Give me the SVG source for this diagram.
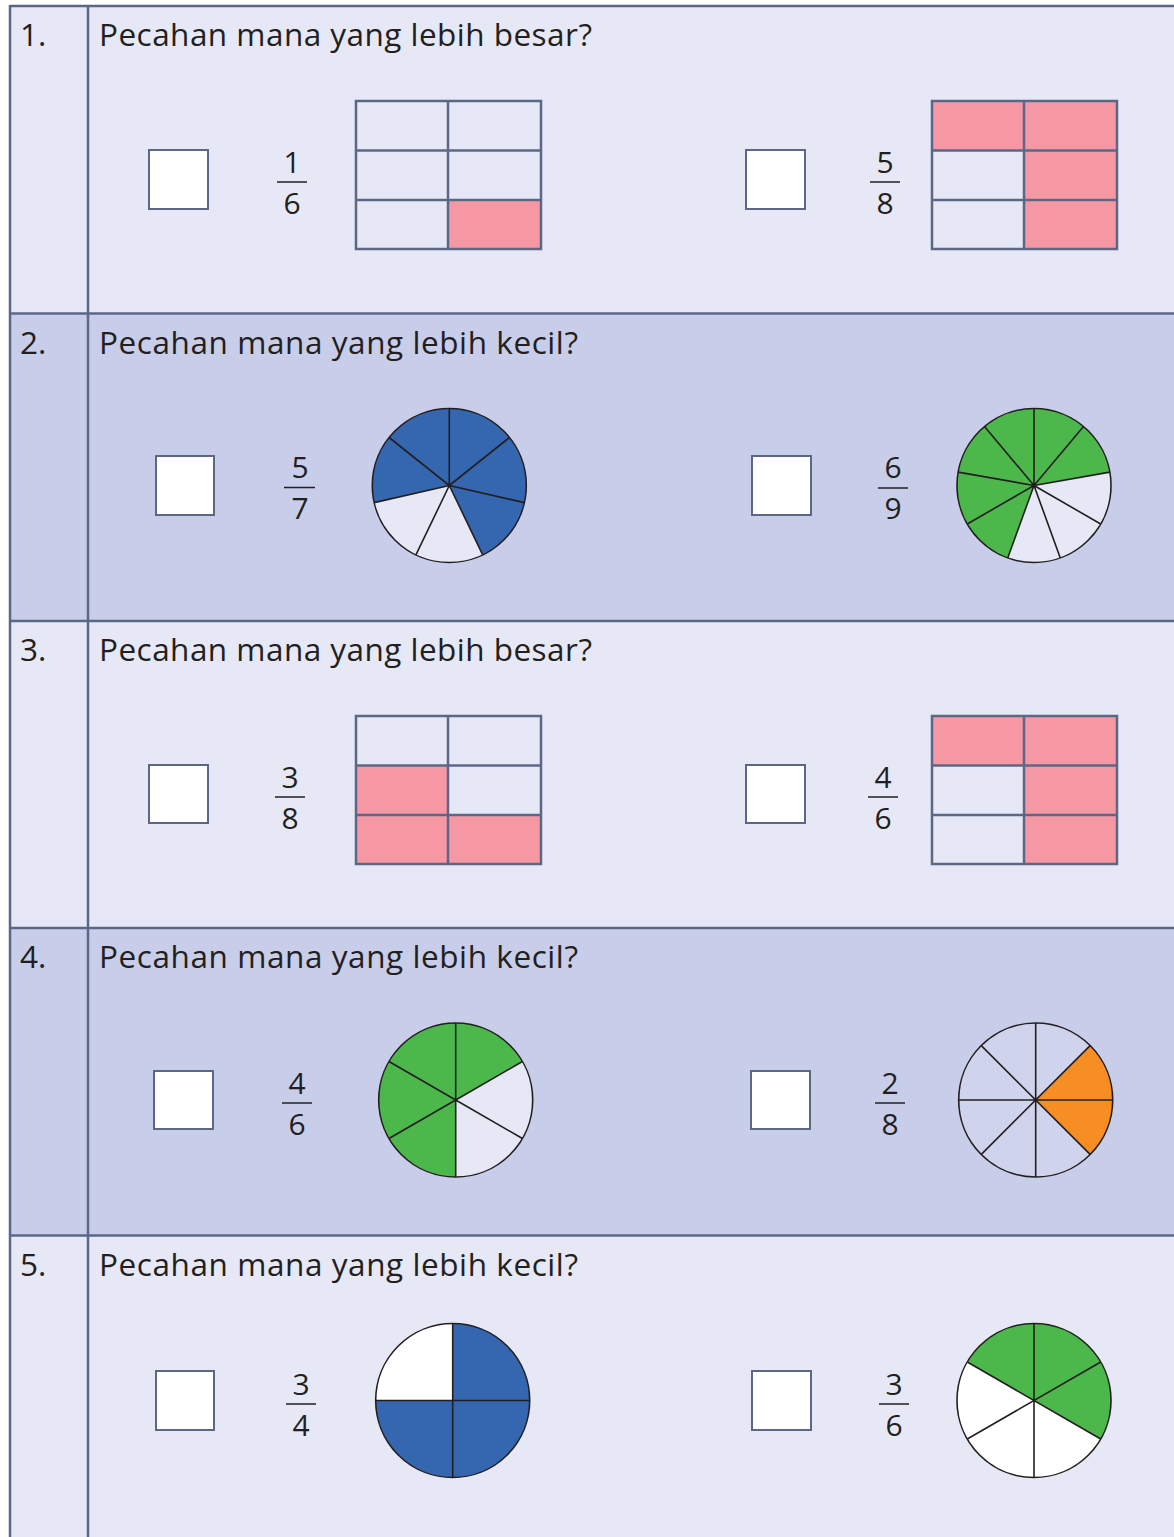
<svg xmlns="http://www.w3.org/2000/svg" width="1174" height="1537" viewBox="0 0 1174 1537">
<style>
.lt{fill:#e6e8f5}.dk{fill:#c8cde9}
.bd{stroke:#5c6788;stroke-width:2.5;fill:none}
.t{font-family:"Open Sans","Noto Sans",sans-serif;font-size:31.5px;fill:#231f20}
.fr{font-family:"Open Sans","Noto Sans",sans-serif;font-size:30px;fill:#231f20;text-anchor:middle}
.fl{stroke:#231f20;stroke-width:1.5}
.cb{fill:#fff;stroke:#5c6788;stroke-width:2}
.g{stroke:#5c6788;stroke-width:2.5}
.pk{fill:#f598a3}
.pl{stroke:#231f20;stroke-width:1.6;fill:none}
.blue{fill:#3566b0}.green{fill:#4cb74a}.orange{fill:#f68e24}
</style>
<!-- backgrounds -->
<rect x="10" y="6" width="1170" height="307.5" class="lt"/>
<rect x="10" y="313.5" width="1170" height="307.5" class="dk"/>
<rect x="10" y="621" width="1170" height="307" class="lt"/>
<rect x="10" y="928" width="1170" height="307.5" class="dk"/>
<rect x="10" y="1235.5" width="1170" height="310" class="lt"/>
<g id="table-lines" class="bd">
<line x1="10" y1="6" x2="1180" y2="6"/>
<line x1="10" y1="313.5" x2="1180" y2="313.5"/>
<line x1="10" y1="621" x2="1180" y2="621"/>
<line x1="10" y1="928" x2="1180" y2="928"/>
<line x1="10" y1="1235.5" x2="1180" y2="1235.5"/>
<line x1="10" y1="5" x2="10" y2="1540"/>
<line x1="88" y1="5" x2="88" y2="1540"/>
</g>

<g id="row1">
<text class="t" x="20" y="46">1.</text>
<text class="t" x="99" y="46" textLength="493">Pecahan mana yang lebih besar?</text>
<rect class="cb" x="149" y="150" width="59" height="59"/>
<text class="fr" x="292" y="173">1</text><line class="fl" x1="277" y1="182" x2="307" y2="182"/><text class="fr" x="292" y="214">6</text>
<rect class="pk" x="448" y="200" width="93" height="49"/>
<g class="g" fill="none"><rect x="356" y="101" width="185" height="148"/><line x1="448" y1="101" x2="448" y2="249"/><line x1="356" y1="150.5" x2="541" y2="150.5"/><line x1="356" y1="200" x2="541" y2="200"/></g>
<rect class="cb" x="746" y="150" width="59" height="59"/>
<text class="fr" x="885" y="173">5</text><line class="fl" x1="870" y1="182" x2="900" y2="182"/><text class="fr" x="885" y="214">8</text>
<rect class="pk" x="932" y="101" width="185" height="49.5"/><rect class="pk" x="1024" y="150" width="93" height="99"/>
<g class="g" fill="none"><rect x="932" y="101" width="185" height="148"/><line x1="1024" y1="101" x2="1024" y2="249"/><line x1="932" y1="150.5" x2="1117" y2="150.5"/><line x1="932" y1="200" x2="1117" y2="200"/></g>
</g>

<g id="row2">
<text class="t" x="20" y="354">2.</text>
<text class="t" x="99" y="354" textLength="479">Pecahan mana yang lebih kecil?</text>
<rect class="cb" x="156" y="456" width="58" height="59"/>
<text class="fr" x="300" y="478">5</text><line class="fl" x1="284" y1="487.5" x2="315" y2="487.5"/><text class="fr" x="300" y="519">7</text>
<path class="blue" d="M449.3,485.5 L374.2,502.6 A77,77 0 1 1 482.7,554.9 Z"/>
<path fill="#e6e8f5" d="M449.3,485.5 L482.7,554.9 A77,77 0 0 1 374.2,502.6 Z"/>
<g class="pl"><circle cx="449.3" cy="485.5" r="77"/><path d="M449.3,485.5 L449.3,408.5 M449.3,485.5 L509.5,437.5 M449.3,485.5 L524.4,502.6 M449.3,485.5 L482.7,554.9 M449.3,485.5 L415.9,554.9 M449.3,485.5 L374.2,502.6 M449.3,485.5 L389.1,437.5"/></g>
<rect class="cb" x="752" y="456" width="59" height="59"/>
<text class="fr" x="893" y="478">6</text><line class="fl" x1="878" y1="488" x2="908" y2="488"/><text class="fr" x="893" y="519">9</text>
<path class="green" d="M1034,485.5 L1007.7,557.9 A77,77 0 1 1 1109.8,472.1 Z"/>
<path fill="#e6e8f5" d="M1034,485.5 L1109.8,472.1 A77,77 0 0 1 1007.7,557.9 Z"/>
<g class="pl"><circle cx="1034" cy="485.5" r="77"/><path d="M1034,485.5 L1034,408.5 M1034,485.5 L1083.5,426.5 M1034,485.5 L1109.8,472.1 M1034,485.5 L1100.7,524 M1034,485.5 L1060.3,557.9 M1034,485.5 L1007.7,557.9 M1034,485.5 L967.3,524 M1034,485.5 L958.2,472.1 M1034,485.5 L984.5,426.5"/></g>
</g>

<g id="row3">
<text class="t" x="20" y="661">3.</text>
<text class="t" x="99" y="661" textLength="493">Pecahan mana yang lebih besar?</text>
<rect class="cb" x="149" y="765" width="59" height="58"/>
<text class="fr" x="290" y="788">3</text><line class="fl" x1="275" y1="797" x2="305" y2="797"/><text class="fr" x="290" y="829">8</text>
<rect class="pk" x="356" y="765" width="92" height="99"/><rect class="pk" x="448" y="815" width="93" height="49"/>
<g class="g" fill="none"><rect x="356" y="716" width="185" height="148"/><line x1="448" y1="716" x2="448" y2="864"/><line x1="356" y1="765.5" x2="541" y2="765.5"/><line x1="356" y1="815" x2="541" y2="815"/></g>
<rect class="cb" x="746" y="765" width="59" height="58"/>
<text class="fr" x="883" y="788">4</text><line class="fl" x1="868" y1="797" x2="898" y2="797"/><text class="fr" x="883" y="829">6</text>
<rect class="pk" x="932" y="716" width="185" height="49.5"/><rect class="pk" x="1024" y="765" width="93" height="99"/>
<g class="g" fill="none"><rect x="932" y="716" width="185" height="148"/><line x1="1024" y1="716" x2="1024" y2="864"/><line x1="932" y1="765.5" x2="1117" y2="765.5"/><line x1="932" y1="815" x2="1117" y2="815"/></g>
</g>

<g id="row4">
<text class="t" x="20" y="968">4.</text>
<text class="t" x="99" y="968" textLength="479">Pecahan mana yang lebih kecil?</text>
<rect class="cb" x="154" y="1071" width="59" height="58"/>
<text class="fr" x="297" y="1094">4</text><line class="fl" x1="282" y1="1103" x2="312" y2="1103"/><text class="fr" x="297" y="1135">6</text>
<path class="green" d="M455.7,1100 L455.7,1177 A77,77 0 1 1 522.4,1061.5 Z"/>
<path fill="#e6e8f5" d="M455.7,1100 L522.4,1061.5 A77,77 0 0 1 455.7,1177 Z"/>
<g class="pl"><circle cx="455.7" cy="1100" r="77"/><path d="M455.7,1100 L455.7,1023 M455.7,1100 L522.4,1061.5 M455.7,1100 L522.4,1138.5 M455.7,1100 L455.7,1177 M455.7,1100 L389,1138.5 M455.7,1100 L389,1061.5"/></g>
<rect class="cb" x="751" y="1071" width="59" height="58"/>
<text class="fr" x="890" y="1094">2</text><line class="fl" x1="875" y1="1103" x2="905" y2="1103"/><text class="fr" x="890" y="1135">8</text>
<circle cx="1035.7" cy="1100" r="77" fill="#cfd3ec"/>
<path class="orange" d="M1035.7,1100 L1090.1,1045.6 A77,77 0 0 1 1090.1,1154.4 Z"/>
<g class="pl"><circle cx="1035.7" cy="1100" r="77"/><path d="M1035.7,1023 L1035.7,1177 M958.7,1100 L1112.7,1100 M981.3,1045.6 L1090.1,1154.4 M1090.1,1045.6 L981.3,1154.4"/></g>
</g>

<g id="row5">
<text class="t" x="20" y="1276">5.</text>
<text class="t" x="99" y="1276" textLength="479">Pecahan mana yang lebih kecil?</text>
<rect class="cb" x="156" y="1371" width="58" height="59"/>
<text class="fr" x="301" y="1395">3</text><line class="fl" x1="286" y1="1404" x2="316" y2="1404"/><text class="fr" x="301" y="1436">4</text>
<circle cx="452.7" cy="1400.5" r="77" fill="#fff"/>
<path class="blue" d="M452.7,1400.5 L452.7,1323.5 A77,77 0 1 1 375.7,1400.5 Z"/>
<g class="pl"><circle cx="452.7" cy="1400.5" r="77"/><path d="M452.7,1323.5 L452.7,1477.5 M375.7,1400.5 L529.7,1400.5"/></g>
<rect class="cb" x="752" y="1371" width="59" height="59"/>
<text class="fr" x="894" y="1395">3</text><line class="fl" x1="879" y1="1404" x2="909" y2="1404"/><text class="fr" x="894" y="1436">6</text>
<circle cx="1034" cy="1400.5" r="77" fill="#fff"/>
<path class="green" d="M1034,1400.5 L967.3,1362 A77,77 0 0 1 1100.7,1362 A77,77 0 0 1 1100.7,1439 Z"/>
<g class="pl"><circle cx="1034" cy="1400.5" r="77"/><path d="M1034,1323.5 L1034,1477.5 M967.3,1362 L1100.7,1439 M1100.7,1362 L967.3,1439"/></g>
</g>
</svg>
